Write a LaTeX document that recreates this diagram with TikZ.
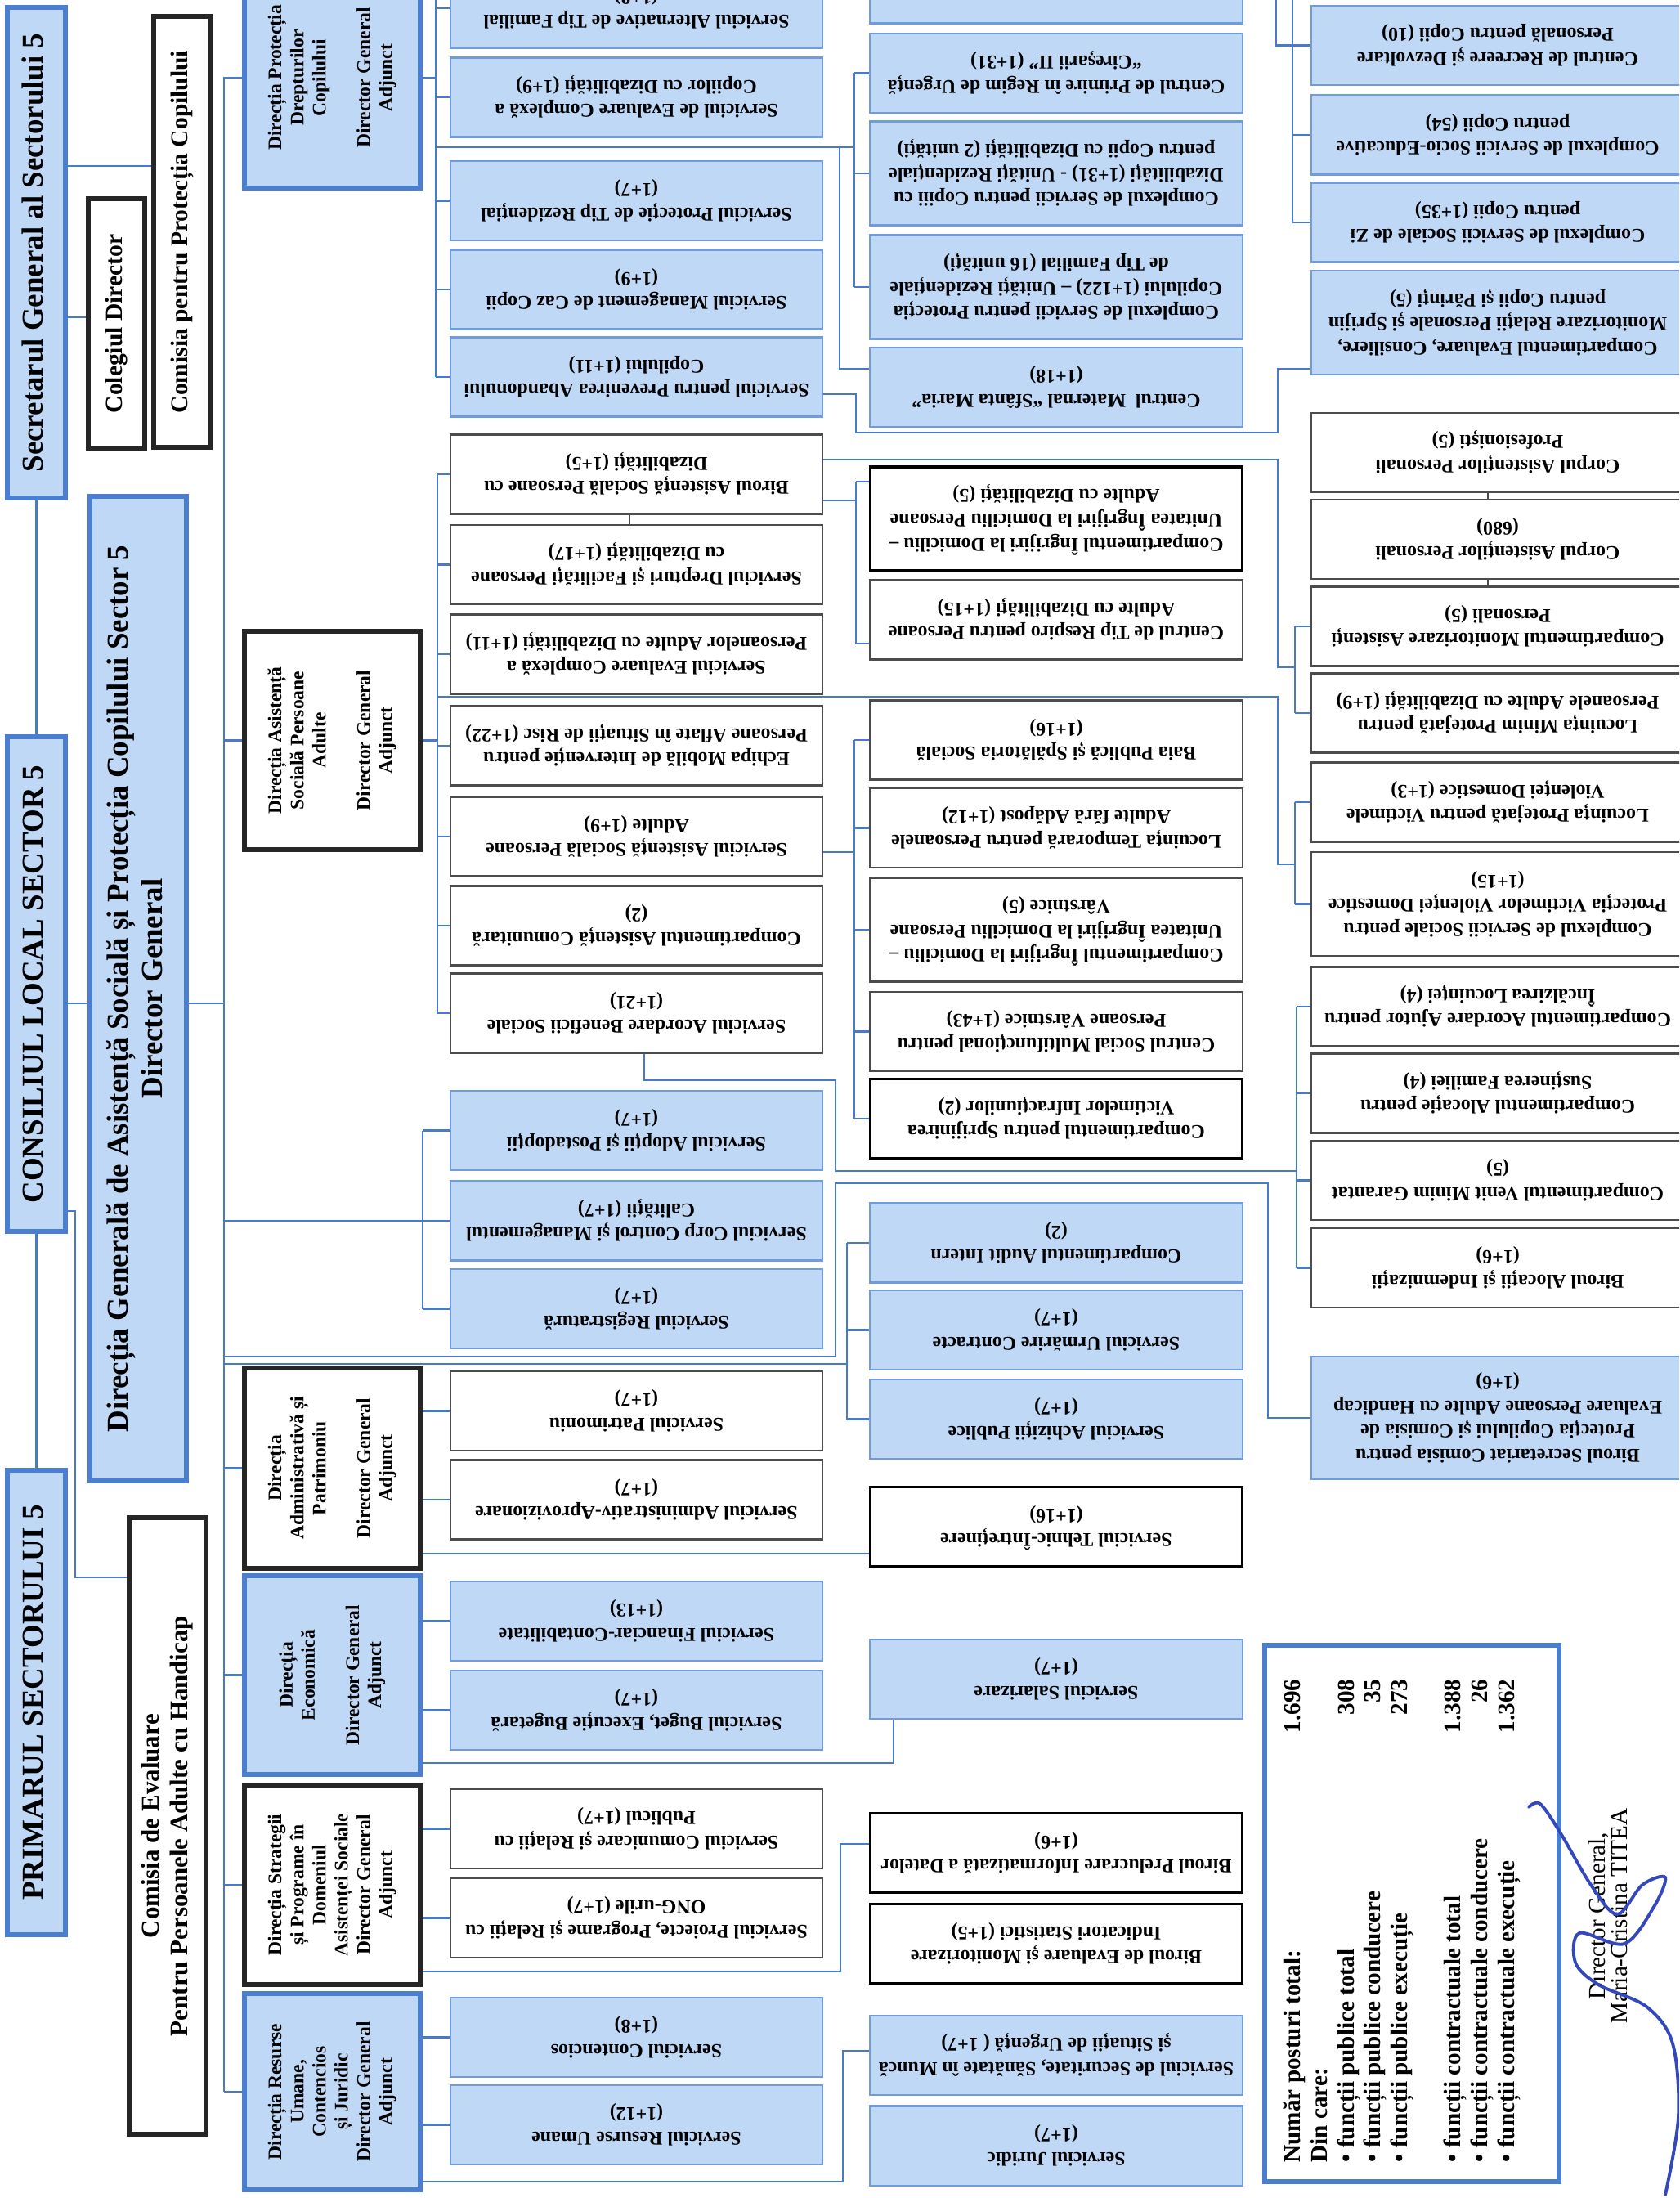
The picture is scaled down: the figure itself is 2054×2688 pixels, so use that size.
\documentclass[tikz,border=0pt]{standalone}
\usepackage{fontspec}
\setmainfont{Liberation Serif}
\usepackage{graphicx}
\usepackage{tikz}
\definecolor{boxblue}{RGB}{191,216,246}
\definecolor{edgeblue}{RGB}{112,156,222}
\definecolor{headblue}{RGB}{74,126,208}
\definecolor{linkblue}{RGB}{72,122,202}
\definecolor{signblue}{RGB}{52,72,190}
\newcommand{\flip}[1]{\rotatebox[origin=c]{180}{\begin{tabular}{@{}c@{}}#1\end{tabular}}}
\newcommand{\turn}[1]{\rotatebox[origin=c]{90}{\begin{tabular}{@{}c@{}}#1\end{tabular}}}

\begin{document}
\begin{tikzpicture}[x=0.01cm, y=-0.01cm,
		svcblue/.style={font=\fontsize{6.8}{8.4}\selectfont\bfseries, draw=edgeblue, line width=0.6pt, fill=boxblue, minimum width=4.55cm, minimum height=0.97cm, inner sep=0pt},
		svcwhite/.style={svcblue, draw=black!70, fill=white},
		svcdark/.style={svcwhite, draw=black, line width=0.9pt},
		tall/.style={minimum height=1.27cm},
		dirblue/.style={font=\fontsize{6.7}{7.7}\selectfont\bfseries, draw=headblue, line width=1.5pt, fill=boxblue, minimum width=2.15cm, inner sep=0pt},
		dirwhite/.style={dirblue, draw=black!85, fill=white},
		headbox/.style={font=\fontsize{10.5}{12}\selectfont\bfseries, draw=headblue, line width=1.7pt, fill=boxblue, minimum width=0.71cm, inner sep=0pt},
		boardbox/.style={font=\fontsize{8.4}{10}\selectfont\bfseries, draw=black!85, line width=1.7pt, fill=white, minimum width=0.69cm, inner sep=0pt},
		link/.style={draw=linkblue, line width=0.6pt},
		gaptick/.style={draw=black!70, line width=0.6pt}]
		
		\useasboundingbox (0,0) rectangle (2054,2688);
		\clip (0,0) rectangle (2054,2688);
		\fill[white] (0,0) rectangle (2054,2688);
		
		% Conducere
		\node[headbox, minimum height=6.00cm] (secretarul) at (44.5,309) {\turn{Secretarul General al Sectorului 5}};
		\node[headbox, minimum height=6.05cm] (consiliul) at (44.5,1203.5) {\turn{CONSILIUL LOCAL SECTOR 5}};
		\node[headbox, minimum height=5.68cm] (primarul) at (44.5,2082) {\turn{PRIMARUL SECTORULUI 5}};
		\node[boardbox, minimum height=3.06cm] (colegiul) at (142.5,396) {\turn{Colegiul Director}};
		\node[boardbox, minimum height=5.27cm] (comisiapc) at (222.5,283.5) {\turn{Comisia pentru Protecția Copilului}};
		\node[headbox, minimum width=1.18cm, minimum height=12.04cm] (dgaspc) at (169,1209) {\turn{Direcția Generală de Asistență Socială și Protecția Copilului Sector 5\\Director General}};
		\node[boardbox, font=\fontsize{8.8}{9.8}\selectfont\bfseries, minimum width=0.94cm, minimum height=7.54cm] (comisiaeval) at (205,2233) {\turn{Comisia de Evaluare\\Pentru Persoanele Adulte cu Handicap}};
		
		% Directii
		\node[dirblue, minimum height=2.70cm] (dpdc) at (406.5,95) {\turn{Direcția Protecția\\Drepturilor\\Copilului\\ \\Director General\\Adjunct}};
		\node[dirwhite, minimum height=2.67cm] (aspa) at (406.5,905.5) {\turn{Direcția Asistență\\Socială Persoane\\Adulte\\ \\Director General\\Adjunct}};
		\node[dirwhite, minimum height=2.45cm] (admin) at (406.5,1795.5) {\turn{Direcția\\Administrativă și\\Patrimoniu\\ \\Director General\\Adjunct}};
		\node[dirblue, minimum height=2.43cm] (economica) at (406.5,2048.5) {\turn{Direcția\\Economică\\ \\Director General\\Adjunct}};
		\node[dirwhite, minimum height=2.44cm] (strategii) at (406.5,2305) {\turn{Direcția Strategii\\și Programe în\\Domeniul\\Asistenței Sociale\\Director General\\Adjunct}};
		\node[dirblue, minimum height=2.40cm] (ru) at (406.5,2558) {\turn{Direcția Resurse\\Umane,\\Contencios\\și Juridic\\Director General\\Adjunct}};
		
		% Servicii, coloana 1
		\node[svcblue] (alternative) at (778.5,10) {\flip{Serviciul Alternative de Tip Familial\\(1+8)}};
		\node[svcblue] (evalcopii) at (778.5,119) {\flip{Serviciul de Evaluare Complexă a\\Copiilor cu Dizabilități (1+9)}};
		\node[svcblue] (protrez) at (778.5,245.5) {\flip{Serviciul Protecție de Tip Rezidențial\\(1+7)}};
		\node[svcblue] (mgmtcaz) at (778.5,354) {\flip{Serviciul Management de Caz Copii\\(1+9)}};
		\node[svcblue] (prevenire) at (778.5,461) {\flip{Serviciul pentru Prevenirea Abandonului\\Copilului (1+11)}};
		\node[svcwhite] (biroudiz) at (778.5,580) {\flip{Biroul Asistență Socială Persoane cu\\Dizabilități (1+5)}};
		\node[svcwhite] (drepturi) at (778.5,690.5) {\flip{Serviciul Drepturi și Facilități Persoane\\cu Dizabilități (1+17)}};
		\node[svcwhite] (evaladulte) at (778.5,800) {\flip{Serviciul Evaluare Complexă a\\Persoanelor Adulte cu Dizabilități (1+11)}};
		\node[svcwhite] (echipa) at (778.5,912) {\flip{Echipa Mobilă de Intervenție pentru\\Persoane Aflate în Situații de Risc (1+22)}};
		\node[svcwhite] (asistpa) at (778.5,1023) {\flip{Serviciul Asistență Socială Persoane\\Adulte (1+9)}};
		\node[svcwhite] (comunitara) at (778.5,1132) {\flip{Compartimentul Asistență Comunitară\\(2)}};
		\node[svcwhite] (beneficii) at (778.5,1239) {\flip{Serviciul Acordare Beneficii Sociale\\(1+21)}};
		\node[svcblue] (adoptii) at (778.5,1382.5) {\flip{Serviciul Adopții și Postadopții\\(1+7)}};
		\node[svcblue] (corpcontrol) at (778.5,1493) {\flip{Serviciul Corp Control și Managementul\\Calității (1+7)}};
		\node[svcblue] (registratura) at (778.5,1600.5) {\flip{Serviciul Registratură\\(1+7)}};
		\node[svcwhite] (patrimoniu) at (778.5,1725.5) {\flip{Serviciul Patrimoniu\\(1+7)}};
		\node[svcwhite] (aprovizionare) at (778.5,1834) {\flip{Serviciul Administrativ-Aprovizionare\\(1+7)}};
		\node[svcblue] (financiar) at (778.5,1982.5) {\flip{Serviciul Financiar-Contabilitate\\(1+13)}};
		\node[svcblue] (buget) at (778.5,2091.5) {\flip{Serviciul Buget, Execuție Bugetară\\(1+7)}};
		\node[svcwhite] (comunicare) at (778.5,2236.5) {\flip{Serviciul Comunicare și Relații cu\\Publicul (1+7)}};
		\node[svcwhite] (proiecte) at (778.5,2345.5) {\flip{Serviciul Proiecte, Programe și Relații cu\\ONG-urile (1+7)}};
		\node[svcblue] (contencios) at (778.5,2491.5) {\flip{Serviciul Contencios\\(1+8)}};
		\node[svcblue] (resurseumane) at (778.5,2598.5) {\flip{Serviciul Resurse Umane\\(1+12)}};
		
		% Servicii, coloana 2
		\node[svcblue] (ciresarii1) at (1292,-20) {};
		\node[svcblue] (ciresarii) at (1292,89.5) {\flip{Centrul de Primire în Regim de Urgență\\“Cireșarii II” (1+31)}};
		\node[svcblue, tall] (copiidiz) at (1292,212) {\flip{Complexul de Servicii pentru Copiii cu\\Dizabilități (1+31) - Unități Rezidențiale\\pentru Copii cu Dizabilități (2 unități)}};
		\node[svcblue, tall] (complexpc) at (1292,351) {\flip{Complexul de Servicii pentru Protecția\\Copilului (1+122) – Unități Rezidențiale\\de Tip Familial (16 unități)}};
		\node[svcblue] (maternal) at (1292,473.5) {\flip{Centrul~~Maternal “Sfânta Maria”\\(1+18)}};
		\node[svcdark, tall] (ingrijiridiz) at (1292,634.5) {\flip{Compartimentul Îngrijiri la Domiciliu –\\Unitatea Îngrijiri la Domiciliu Persoane\\Adulte cu Dizabilități (5)}};
		\node[svcwhite] (respiro) at (1292,758) {\flip{Centrul de Tip Respiro pentru Persoane\\Adulte cu Dizabilități (1+15)}};
		\node[svcwhite] (baia) at (1292,905) {\flip{Baia Publică și Spălătoria Socială\\(1+16)}};
		\node[svcwhite] (loctemp) at (1292,1012.5) {\flip{Locuința Temporară pentru Persoanele\\Adulte fără Adăpost (1+12)}};
		\node[svcwhite, tall] (ingrijirivarst) at (1292,1137) {\flip{Compartimentul Îngrijiri la Domiciliu –\\Unitatea Îngrijiri la Domiciliu Persoane\\Vârstnice (5)}};
		\node[svcwhite] (centrulsocial) at (1292,1261.5) {\flip{Centrul Social Multifuncțional pentru\\Persoane Vârstnice (1+43)}};
		\node[svcdark] (victimeinfr) at (1292,1368) {\flip{Compartimentul pentru Sprijinirea\\Victimelor Infracțiunilor (2)}};
		\node[svcblue] (audit) at (1292,1520) {\flip{Compartimentul Audit Intern\\(2)}};
		\node[svcblue] (urmarire) at (1292,1626.5) {\flip{Serviciul Urmărire Contracte\\(1+7)}};
		\node[svcblue] (achizitii) at (1292,1735.5) {\flip{Serviciul Achiziții Publice\\(1+7)}};
		\node[svcdark] (tehnic) at (1292,1867) {\flip{Serviciul Tehnic-Întreținere\\(1+16)}};
		\node[svcblue] (salarizare) at (1292,2053.5) {\flip{Serviciul Salarizare\\(1+7)}};
		\node[svcdark] (prelucrare) at (1292,2266) {\flip{Biroul Prelucrare Informatizată a Datelor\\(1+6)}};
		\node[svcdark] (evalmonit) at (1292,2377) {\flip{Biroul de Evaluare și Monitorizare\\Indicatori Statistici (1+5)}};
		\node[svcblue] (securitate) at (1292,2513.5) {\flip{Serviciul de Securitate, Sănătate în Muncă\\și Situații de Urgență ( 1+7)}};
		\node[svcblue] (juridic) at (1292,2624) {\flip{Serviciul Juridic\\(1+7)}};
		
		% Servicii, coloana 3
		\node[svcblue] (recreere) at (1832,55.5) {\flip{Centrul de Recreere și Dezvoltare\\Personală pentru Copii (10)}};
		\node[svcblue] (socioeduc) at (1832,165) {\flip{Complexul de Servicii Socio-Educative\\pentru Copii (54)}};
		\node[svcblue] (socialezi) at (1832,272) {\flip{Complexul de Servicii Sociale de Zi\\pentru Copii (1+35)}};
		\node[svcblue, tall] (evalconsil) at (1832,394.5) {\flip{Compartimentul Evaluare, Consiliere,\\Monitorizare Relații Personale și Sprijin\\pentru Copii și Părinți (5)}};
		\node[svcwhite] (corpprof) at (1832,553.5) {\flip{Corpul Asistenților Personali\\Profesioniști (5)}};
		\node[svcwhite] (corp680) at (1832,659.5) {\flip{Corpul Asistenților Personali\\(680)}};
		\node[svcwhite] (monitorizare) at (1832,766) {\flip{Compartimentul Monitorizare Asistenți\\Personali (5)}};
		\node[svcwhite] (locminim) at (1832,872) {\flip{Locuința Minim Protejată pentru\\Persoanele Adulte cu Dizabilități (1+9)}};
		\node[svcwhite] (locvictime) at (1832,981) {\flip{Locuința Protejată pentru Victimele\\Violenței Domestice (1+3)}};
		\node[svcwhite, tall] (complexvictime) at (1832,1105.5) {\flip{Complexul de Servicii Sociale pentru\\Protecția Victimelor Violenței Domestice\\(1+15)}};
		\node[svcwhite] (incalzire) at (1832,1231) {\flip{Compartimentul Acordare Ajutor pentru\\Încălzirea Locuinței (4)}};
		\node[svcwhite] (alocatie) at (1832,1337) {\flip{Compartimentul Alocație pentru\\Susținerea Familiei (4)}};
		\node[svcwhite] (venitminim) at (1832,1443.5) {\flip{Compartimentul Venit Minim Garantat\\(5)}};
		\node[svcwhite] (birouloc) at (1832,1550.5) {\flip{Biroul Alocații și Indemnizații\\(1+6)}};
		\node[svcblue, minimum height=1.50cm] (secretariat) at (1832,1734) {\flip{Biroul Secretariat Comisia pentru\\Protecția Copilului și Comisia de\\Evaluare Persoane Adulte cu Handicap\\(1+6)}};
		
		% Legenda si semnatura
		\node[draw=headblue, line width=1.7pt, fill=white, minimum width=3.60cm, minimum height=6.56cm] (legend) at (1727,2340) {};
		\node[font=\fontsize{8.3}{9.3}\selectfont\bfseries, inner sep=0pt] (legendtext) at (1715,2349) {\rotatebox[origin=c]{90}{\begin{tabular*}{168pt}{@{}l@{\extracolsep{\fill}}r@{}}
					Număr posturi total: & 1.696\\
					Din care: & \\
					\textbullet\ funcții publice total & 308\\
					\textbullet\ funcții publice conducere & 35\\
					\textbullet\ funcții publice execuție & 273\\
					& \\
					\textbullet\ funcții contractuale total & 1.388\\
					\textbullet\ funcții contractuale conducere & 26\\
					\textbullet\ funcții contractuale execuție & 1.362
				\end{tabular*}}};
		\node[font=\fontsize{8.3}{7.9}\selectfont, inner sep=0pt] (director) at (1971,2343) {\turn{Director General,\\Maria-Cristina TITEA}};
		\draw[signblue, line width=1.1pt, line cap=round] plot[smooth, tension=0.55] coordinates {(1870,2210) (1884,2206) (1909,2242) (1946,2305) (1978,2341) (2009,2305) (2037,2296) (2023,2332) (1987,2377) (1932,2364) (1927,2400) (1955,2427) (2014,2454) (2046,2499) (2053,2589) (2037,2684)};
		
		% Legaturi conducere
		\draw[link] (secretarul.east |- 0,203) -- (comisiapc.west |- 0,203);
		\draw[link] (secretarul.east |- 0,388) -- (colegiul.west |- 0,388);
		\draw[link] (secretarul.south) -- (consiliul.north);
		\draw[link] (consiliul.south) -- (primarul.north);
		\draw[link] (consiliul.east |- 0,1227) -- (dgaspc.west |- 0,1227);
		\draw[link] (consiliul.east |- 0,1481) -| (92,1929) -- (comisiaeval.west |- 0,1929);
		
		% Axa directiilor
		\coordinate (spine) at (274,94);
		\draw[link] (dgaspc.east |- 0,1227) -- (spine |- 0,1227);
		\draw[link] (spine) -- (ru.west -| spine);
		\foreach \d in {dpdc,aspa,admin,economica,strategii,ru}
		\draw[link] (\d.west -| spine) -- (\d.west);
		
		% Directia Protectia Drepturilor Copilului
		\coordinate (dpdcbus) at (533,0);
		\draw[link] (dpdc.east) -- (dpdc.east -| dpdcbus);
		\draw[link] (dpdcbus) -- (prevenire.west -| dpdcbus);
		\foreach \s in {alternative,evalcopii,protrez,mgmtcaz,prevenire}
		\draw[link] (\s.west -| dpdcbus) -- (\s.west);
		\draw[link] (533,180) -- (1045,180);
		\draw[link] (ciresarii.west -| 1045,0) -- (complexpc.west -| 1045,0);
		\foreach \s in {ciresarii,copiidiz,complexpc}
		\draw[link] (\s.west -| 1045,0) -- (\s.west);
		\draw[link] (1027,180) |- (maternal.west |- 0,451);
		\draw[link] (prevenire.east |- 0,482) -| (1047,529) -| (1563,451) -- (evalconsil.west |- 0,451);
		\draw[link] (1561,0) |- (recreere.west);
		\draw[link] (1581,0) -- (socialezi.west -| 1581,0);
		\foreach \s in {socioeduc,socialezi}
		\draw[link] (\s.west -| 1581,0) -- (\s.west);
		
		% Directia Asistenta Sociala Persoane Adulte
		\coordinate (aspabus) at (535,0);
		\draw[link] (aspa.east) -- (aspa.east -| aspabus);
		\draw[link] (biroudiz.west -| aspabus) -- (beneficii.west -| aspabus);
		\foreach \s in {biroudiz,drepturi,evaladulte,echipa,asistpa,comunitara,beneficii}
		\draw[link] (\s.west -| aspabus) -- (\s.west);
		\draw[link] (biroudiz.east |- 0,562) -| (1563,816) -- (1584,816);
		\draw[link] (monitorizare.west -| 1584,0) -- (locminim.west -| 1584,0);
		\foreach \s in {monitorizare,locminim}
		\draw[link] (\s.west -| 1584,0) -- (\s.west);
		\draw[link] (biroudiz.east |- 0,612) -- (1047,612);
		\draw[link] (1047,589) -- (1047,787);
		\draw[link] (1047,589) -- (ingrijiridiz.west |- 0,589);
		\draw[link] (1047,787) -- (respiro.west |- 0,787);
		\draw[link] (535,852) -| (1563,1057) -- (1584,1057);
		\draw[link] (locvictime.west -| 1584,0) -- (complexvictime.west -| 1584,0);
		\foreach \s in {locvictime,complexvictime}
		\draw[link] (\s.west -| 1584,0) -- (\s.west);
		\draw[link] (asistpa.east |- 0,1042) -- (1045,1042);
		\draw[link] (baia.west -| 1045,0) -- (victimeinfr.west -| 1045,0);
		\foreach \s in {baia,loctemp,ingrijirivarst,centrulsocial,victimeinfr}
		\draw[link] (\s.west -| 1045,0) -- (\s.west);
		\draw[link] (beneficii.south -| 788,0) |- (1022,1321) |- (1586,1432);
		\draw[link] (incalzire.west -| 1586,0) -- (birouloc.west -| 1586,0);
		\foreach \s in {incalzire,alocatie,venitminim,birouloc}
		\draw[link] (\s.west -| 1586,0) -- (\s.west);
		
		% Subordonare directa
		\coordinate (dgbus) at (517,0);
		\draw[link] (corpcontrol.west -| spine) -- (corpcontrol.west);
		\draw[link] (adoptii.west -| dgbus) -- (registratura.west -| dgbus);
		\foreach \s in {adoptii,registratura}
		\draw[link] (\s.west -| dgbus) -- (\s.west);
		\draw[link] (274,1659) -| (1022,1447) -| (1551,1734) -- (secretariat.west);
		\draw[link] (274,1668) -- (1036,1668);
		\draw[link] (audit.west -| 1036,0) -- (achizitii.west -| 1036,0);
		\foreach \s in {audit,urmarire,achizitii}
		\draw[link] (\s.west -| 1036,0) -- (\s.west);
		
		% Celelalte directii
		\foreach \s in {patrimoniu,aprovizionare}
		\draw[link] (\s.west -| admin.east) -- (\s.west);
		\draw[link] (admin.east |- 0,1900) -- (tehnic.west |- 0,1900);
		\foreach \s in {financiar,buget}
		\draw[link] (\s.west -| economica.east) -- (\s.west);
		\draw[link] (economica.east |- 0,2156) -| (salarizare.south -| 1093,0);
		\foreach \s in {comunicare,proiecte}
		\draw[link] (\s.west -| strategii.east) -- (\s.west);
		\draw[link] (strategii.east |- 0,2411) -| (1028,2255) -- (prelucrare.west |- 0,2255);
		\foreach \s in {contencios,resurseumane}
		\draw[link] (\s.west -| ru.east) -- (\s.west);
		\draw[link] (ru.east |- 0,2668) -| (1031,2508) -- (securitate.west |- 0,2508);
		
		% Legaturi intre casete
		\draw[gaptick] (biroudiz.south -| 770,0) -- (drepturi.north -| 770,0);
		\draw[gaptick] (corpprof.south -| 1820,0) -- (corp680.north -| 1820,0);
		\draw[gaptick] (corp680.south -| 1820,0) -- (monitorizare.north -| 1820,0);
		
\end{tikzpicture}
\end{document}
